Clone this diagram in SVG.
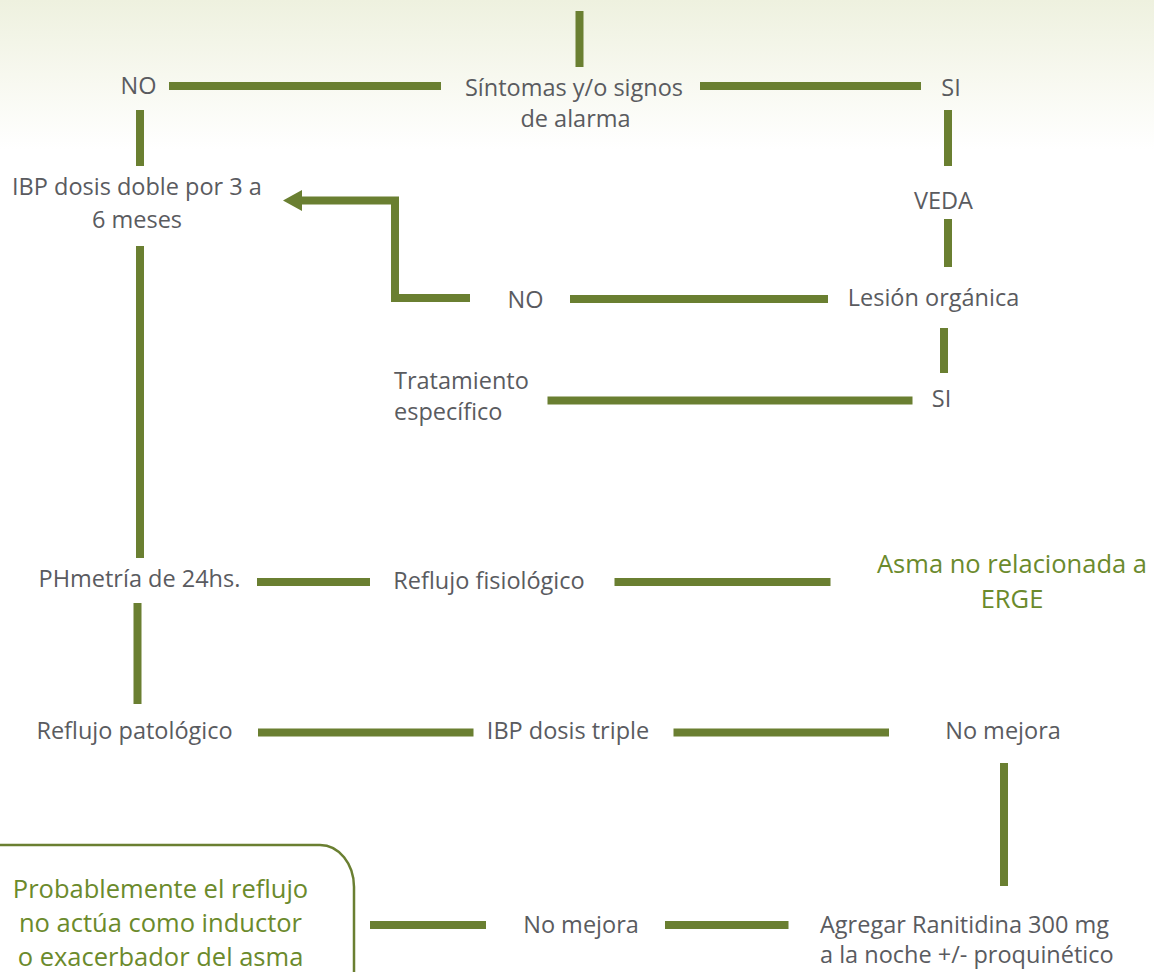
<svg xmlns="http://www.w3.org/2000/svg" width="1154" height="972" viewBox="0 0 1154 972">
<defs>
<linearGradient id="bg" x1="0" y1="0" x2="0" y2="150" gradientUnits="userSpaceOnUse">
<stop offset="0" stop-color="#eef1df"/>
<stop offset="0.5" stop-color="#f7f8ef"/>
<stop offset="1" stop-color="#ffffff"/>
</linearGradient>
<marker id="arrow" markerUnits="userSpaceOnUse" viewBox="0 0 19 21" refX="0" refY="10.5" markerWidth="19" markerHeight="21" orient="auto">
<path d="M0,0 L19,10.5 L0,21 z" fill="#6a7f31"/>
</marker>
<style>
.t{font-family:"Open Sans","Liberation Sans",sans-serif;font-size:23.5px;fill:#5a5b5f;text-anchor:middle}
.l{text-anchor:start}
.g{font-family:"Open Sans","Liberation Sans",sans-serif;font-size:25.5px;fill:#6b8a2c;text-anchor:middle}
.c{stroke:#6a7f31;stroke-width:8;fill:none;stroke-linecap:butt}
.box{stroke:#6a7f31;stroke-width:2.5;fill:none}
</style>
</defs>
<rect x="0" y="0" width="1154" height="972" fill="url(#bg)"/>
<g id="connectors">
<line class="c" x1="579.5" y1="11" x2="579.5" y2="67"/>
<line class="c" x1="169" y1="86" x2="441" y2="86"/>
<line class="c" x1="700" y1="86" x2="921" y2="86"/>
<line class="c" x1="140" y1="110" x2="140" y2="166"/>
<line class="c" x1="948" y1="110" x2="948" y2="166"/>
<line class="c" x1="948" y1="219" x2="948" y2="267"/>
<path class="c" d="M470,298 H395 V200.5 H302" marker-end="url(#arrow)"/>
<line class="c" x1="570" y1="299" x2="828" y2="299"/>
<line class="c" x1="944" y1="328" x2="944" y2="373"/>
<line class="c" x1="547.5" y1="400.5" x2="912.5" y2="400.5"/>
<line class="c" x1="140" y1="246" x2="140" y2="558"/>
<line class="c" x1="257" y1="582" x2="370" y2="582"/>
<line class="c" x1="614.5" y1="582" x2="830.5" y2="582"/>
<line class="c" x1="137.5" y1="603" x2="137.5" y2="704"/>
<line class="c" x1="258" y1="732.5" x2="473.5" y2="732.5"/>
<line class="c" x1="673.5" y1="732.5" x2="889" y2="732.5"/>
<line class="c" x1="1004" y1="763" x2="1004" y2="886"/>
<line class="c" x1="370" y1="925" x2="486" y2="925"/>
<line class="c" x1="665" y1="925" x2="788.5" y2="925"/>
</g>
<g id="n-sintomas"><text class="t" x="574" y="96">Síntomas y/o signos</text><text class="t" x="575.5" y="127">de alarma</text></g>
<g id="n-no1"><text class="t" x="138.5" y="94">NO</text></g>
<g id="n-si1"><text class="t" x="951" y="96">SI</text></g>
<g id="n-veda"><text class="t" x="943.5" y="209">VEDA</text></g>
<g id="n-ibp-doble"><text class="t" x="137" y="195">IBP dosis doble por 3 a</text><text class="t" x="137" y="228">6 meses</text></g>
<g id="n-no2"><text class="t" x="525.5" y="308">NO</text></g>
<g id="n-lesion"><text class="t" x="933.5" y="306">Lesión orgánica</text></g>
<g id="n-si2"><text class="t" x="941.5" y="407">SI</text></g>
<g id="n-tratamiento"><text class="t l" x="394" y="389">Tratamiento</text><text class="t l" x="394" y="420">específico</text></g>
<g id="n-phmetria"><text class="t" x="139.5" y="587">PHmetría de 24hs.</text></g>
<g id="n-fisiologico"><text class="t" x="489" y="589">Reflujo fisiológico</text></g>
<g id="n-asma"><text class="g" x="1012" y="573">Asma no relacionada a</text><text class="g" x="1012" y="608">ERGE</text></g>
<g id="n-patologico"><text class="t" x="134.5" y="739">Reflujo patológico</text></g>
<g id="n-ibp-triple"><text class="t" x="568" y="739">IBP dosis triple</text></g>
<g id="n-nomejora1"><text class="t" x="1003" y="739">No mejora</text></g>
<g id="n-probablemente">
<path class="box" d="M-5,845 H320 A34,42 0 0 1 354,887 V980"/>
<text class="g" x="160.5" y="898">Probablemente el reflujo</text>
<text class="g" x="160.5" y="932">no actúa como inductor</text>
<text class="g" x="160.5" y="966">o exacerbador del asma</text>
</g>
<g id="n-nomejora2"><text class="t" x="581" y="933">No mejora</text></g>
<g id="n-ranitidina"><text class="t l" x="820" y="933">Agregar Ranitidina 300 mg</text><text class="t l" x="820" y="963">a la noche +/- proquinético</text></g>
</svg>
